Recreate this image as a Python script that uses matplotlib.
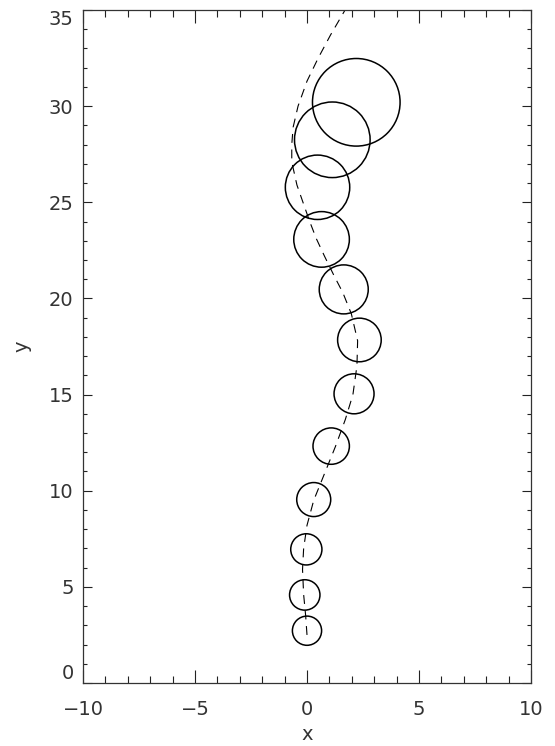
import matplotlib
matplotlib.use("Agg")
import matplotlib.pyplot as plt

# circle centres (bottom to top) and their on-screen radius in pixels
circle_x = [0.0, -0.1, -0.03, 0.30, 1.08, 2.10, 2.34, 1.64, 0.65, 0.47, 1.13, 2.20]
circle_y = [2.72, 4.58, 6.95, 9.54, 12.32, 15.04, 17.84, 20.47, 23.07, 25.78, 28.25, 30.2]
circle_r = [14.6, 15.2, 15.6, 17.0, 18.2, 20.0, 21.8, 24.5, 27.8, 32.2, 37.8, 43.8]

# dashed track
track_x = [0.0, -0.06, -0.15, -0.2, -0.15, 0.0, 0.3, 0.82, 1.27, 1.71, 2.05, 2.23, 2.26,
           1.98, 1.6, 1.2, 0.78, 0.42, 0.12, -0.15, -0.45, -0.68, -0.68, -0.62, -0.4,
           0.0, 0.5, 1.05, 1.7]
track_y = [2.5, 3.5, 4.6, 5.9, 7.0, 8.2, 9.5, 11.0, 12.3, 13.7, 15.0, 16.5, 17.8,
           19.2, 20.3, 21.2, 22.2, 23.1, 24.0, 24.9, 25.9, 27.1, 28.0, 28.9, 30.0,
           31.3, 32.5, 33.7, 35.0]

xticks = [-10, -5, 0, 5, 10]
yticks = [0, 5, 10, 15, 20, 25, 30, 35]

DPI = 100
txt = "#333333"
plt.rcParams["font.family"] = "DejaVu Sans"

fig = plt.figure(figsize=(5.55, 7.46), dpi=DPI)
ax = fig.add_axes([83 / 555, 63 / 746, 448 / 555, 673 / 746])

ax.plot(track_x, track_y, color="k", lw=0.8, dashes=(8, 6))

# radius px -> marker diameter in points
sizes = [(2 * r * 72 / DPI) ** 2 for r in circle_r]
ax.scatter(circle_x, circle_y, s=sizes, facecolors="none", edgecolors="k", linewidths=1.1)

ax.set_xlim(-10, 10)
ax.set_ylim(0, 35)
ax.set_xticks(xticks)
ax.set_yticks(yticks)
ax.set_xticks(range(-10, 11), minor=True)
ax.set_yticks(range(0, 36), minor=True)

ax.tick_params(axis="both", which="both", direction="in", top=True, right=True,
               colors="#222222", labelcolor=txt, labelsize=14, width=0.8)
ax.tick_params(axis="x", which="major", length=9.7, pad=12)
ax.tick_params(axis="x", which="minor", length=4.9)
ax.tick_params(axis="y", which="major", length=6.5, pad=6.8)
ax.tick_params(axis="y", which="minor", length=3.2)

for sp in ax.spines.values():
    sp.set_color("#333333")
    sp.set_linewidth(0.9)

ax.set_xlabel("x", fontsize=14, color=txt)
ax.set_ylabel("y", fontsize=14, color=txt)
ax.xaxis.set_label_coords(0.5, -0.077)
ax.yaxis.set_label_coords(-0.137, 0.5)
ax.xaxis.label.set_va("center")
ax.yaxis.label.set_va("center")

# end labels stay inside the axis range
ytl = ax.get_yticklabels()
ytl[0].set_va("bottom")
ytl[-1].set_va("top")

fig.savefig("out.png", dpi=DPI)
